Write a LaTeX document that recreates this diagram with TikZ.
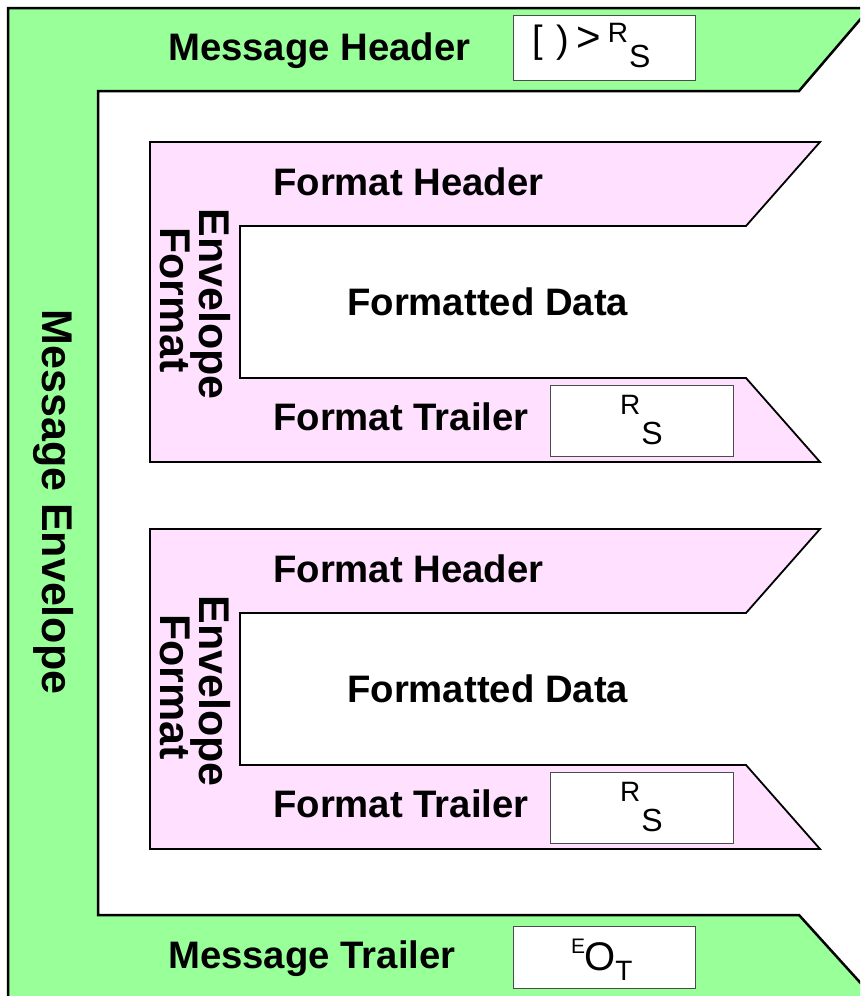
\documentclass[tikz,border=0pt]{standalone}
\usepackage{fontspec}
\setmainfont{Liberation Sans}
\definecolor{envgreen}{RGB}{153,255,153}
\definecolor{fmtpink}{RGB}{255,224,255}
\begin{document}
\begin{tikzpicture}[x=1pt,y=-1pt,
  lbl/.style={font=\fontsize{38.3}{40}\selectfont\bfseries, inner sep=0pt, anchor=base west},
  vlbl/.style={font=\fontsize{43}{45}\selectfont\bfseries, inner sep=0pt, anchor=base, rotate=-90},
  codebox/.style={draw=black!70, line width=1.3pt, fill=white, inner sep=0pt, anchor=north west},
  codetxt/.style={inner sep=0pt, anchor=base west},
  envshape/.style={draw=black, fill=envgreen, line width=2.5pt, line join=miter},
  fmtshape/.style={draw=black, fill=fmtpink, line width=1.8pt, line join=miter}]
\useasboundingbox (0,0) rectangle (860,996);
\begin{scope}
  \clip (0,0) rectangle (860,996);
  \draw[envshape] (8,8) -- (870,8) -- (799,91) -- (98,91) -- (98,915) -- (799,915) -- (885,1010) -- (8,1010) -- cycle;
\end{scope}
% message header / trailer
\node[lbl] (mh) at (168,60) {Message Header};
\node[codebox, minimum width=182pt, minimum height=65pt] (mhbox) at (513,15) {};
\node[codetxt] (mhcode) at (532,52) {\fontsize{38}{40}\selectfont [\hspace{14pt})\hspace{7pt}\raisebox{1pt}{\fontsize{42}{42}\selectfont >}\hspace{7pt}\raisebox{10pt}{\fontsize{28}{30}\selectfont R}\hspace{1pt}\raisebox{-15pt}{\fontsize{32}{30}\selectfont S}};
\node[lbl] (mt) at (168,968) {Message Trailer};
\node[codebox, minimum width=182pt, minimum height=62pt] (mtbox) at (513,926) {};
\node[codetxt] (mtcode) at (571,970) {\fontsize{40}{40}\selectfont \raisebox{17pt}{\fontsize{21}{24}\selectfont E}\hspace{-1pt}O\raisebox{-10pt}{\fontsize{28}{30}\selectfont T}};
\node[vlbl] (me) at (42,502) {Message Envelope};
% format envelopes
\foreach \k/\d in {1/0,2/387}{
  \draw[fmtshape] (150,142+\d) -- (820,142+\d) -- (746,226+\d) -- (240,226+\d) -- (240,378+\d) -- (746,378+\d) -- (820,462+\d) -- (150,462+\d) -- cycle;
  \node[lbl] (fh\k) at (273,195+\d) {Format Header};
  \node[lbl] (fd\k) at (347,315+\d) {Formatted Data};
  \node[lbl] (ft\k) at (273,430+\d) {Format Trailer};
  \node[codebox, minimum width=183pt, minimum height=71pt] (ftbox\k) at (550,385+\d) {};
  \node[codetxt] (ftcode\k) at (620,414+\d) {\fontsize{28}{30}\selectfont R\hspace{1pt}\raisebox{-30pt}{\fontsize{32}{34}\selectfont S}};
  \node[vlbl] (fe\k) at (199,304+\d) {Envelope};
  \node[vlbl] (ff\k) at (160,300+\d) {Format};
}
\end{tikzpicture}
\end{document}
